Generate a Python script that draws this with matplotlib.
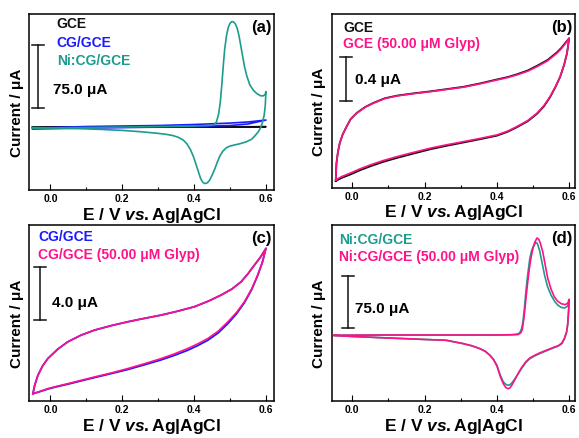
import numpy as np
import matplotlib
matplotlib.use("Agg")
import matplotlib.pyplot as plt
from matplotlib.ticker import MultipleLocator

plt.rcParams['font.family'] = ['Liberation Sans', 'DejaVu Sans']
plt.rcParams['font.weight'] = 'bold'
plt.rcParams['axes.labelweight'] = 'bold'
plt.rcParams['mathtext.fontset'] = 'custom'
plt.rcParams['mathtext.it'] = 'Liberation Sans:italic:bold'
plt.rcParams['mathtext.rm'] = 'Liberation Sans:bold'

BLACK = '#111111'
BLUE = '#1a1aff'
TEAL = '#1b9c8d'
PINK = '#ff1189'

# ---- panel (a): current in uA ----
a_gce_E = [-0.05, 0.1, 0.3, 0.5, 0.6, 0.5, 0.3, 0.1, -0.05]
a_gce_I = [0.0, 0.1, 0.2, 0.3, 0.4, 0.0, -0.2, -0.3, 0.0]

a_cg_E = [-0.05, 0.1, 0.2, 0.3, 0.4, 0.5, 0.55, 0.6, 0.55, 0.5, 0.4, 0.3, 0.2, 0.1, -0.05]
a_cg_I = [-1.2, 0.6, 1.2, 1.8, 3.0, 4.7, 6.0, 8.3, 3.6, 1.8, 0.6, 0.0, -0.6, -1.2, -2.4]

a_ni_E = [-0.05, 0.1, 0.2, 0.3, 0.4, 0.44, 0.455, 0.462, 0.468, 0.473, 0.477, 0.481, 0.485,
          0.49, 0.495, 0.5, 0.505, 0.51, 0.515, 0.52, 0.525, 0.53, 0.535, 0.54, 0.547, 0.555,
          0.565, 0.575, 0.585, 0.593, 0.598, 0.6,
          0.598, 0.595, 0.59, 0.585, 0.578, 0.57, 0.56, 0.545, 0.53, 0.515, 0.5, 0.49, 0.48,
          0.472, 0.465, 0.458, 0.45, 0.443, 0.437, 0.43, 0.424, 0.418, 0.412, 0.405, 0.398,
          0.39, 0.38, 0.37, 0.355, 0.34, 0.32, 0.3, 0.25, 0.2, 0.15, 0.1, 0.05, 0.0, -0.05]
a_ni_I = [-1.2, -0.6, 0.0, 0.6, 1.2, 1.8, 2.6, 6.0, 15.0, 30.0, 50.0, 72.0, 92.0,
          108.0, 118.0, 123.0, 125.0, 124.5, 122.0, 117.0, 108.0, 96.0, 84.0, 72.0, 60.0, 50.0,
          43.5, 39.5, 37.0, 37.0, 39.0, 42.0,
          25.0, 14.0, 5.0, -1.0, -6.0, -10.0, -14.5, -17.5, -19.5, -21.0, -22.5, -24.5, -28.5,
          -34.0, -41.0, -49.0, -57.0, -63.0, -66.0, -67.0, -65.5, -61.0, -53.0, -44.0, -35.0,
          -27.0, -20.0, -15.5, -12.0, -10.0, -8.5, -7.5, -5.5, -4.0, -3.0, -2.2, -1.5, -1.0, -0.5]

# ---- panel (b) ----
b_E = [-0.046, -0.03, -0.006, 0.02, 0.05, 0.085, 0.124, 0.17, 0.216, 0.26, 0.308, 0.355, 0.40,
       0.43, 0.455, 0.485, 0.511, 0.53, 0.547, 0.562, 0.575, 0.586, 0.594, 0.60,
       0.59, 0.578, 0.566, 0.54, 0.511, 0.485, 0.455, 0.43, 0.40, 0.355, 0.308, 0.26, 0.216,
       0.17, 0.124, 0.09, 0.058, 0.035, 0.012, -0.005, -0.016, -0.027, -0.035, -0.04, -0.044, -0.046]
b_gly_I = [-0.275, -0.245, -0.213, -0.175, -0.137, -0.098, -0.061, -0.022, 0.016, 0.046, 0.076, 0.106, 0.137,
           0.172, 0.213, 0.268, 0.336, 0.405, 0.488, 0.58, 0.671, 0.78, 0.885, 1.022,
           0.975, 0.925, 0.885, 0.815, 0.762, 0.72, 0.686, 0.662, 0.640, 0.606, 0.574, 0.553, 0.533,
           0.515, 0.494, 0.47, 0.427, 0.39, 0.336, 0.28, 0.213, 0.14, 0.061, -0.02, -0.122, -0.275]
b_gce_I = [-0.285, -0.257, -0.226, -0.188, -0.150, -0.110, -0.073, -0.033, 0.006, 0.037, 0.068, 0.099, 0.130,
           0.166, 0.207, 0.262, 0.330, 0.398, 0.482, 0.575, 0.668, 0.778, 0.885, 1.022,
           0.982, 0.933, 0.893, 0.823, 0.770, 0.727, 0.692, 0.667, 0.645, 0.610, 0.578, 0.556, 0.536,
           0.518, 0.497, 0.473, 0.430, 0.392, 0.338, 0.281, 0.213, 0.14, 0.061, -0.02, -0.122, -0.285]

# ---- panel (c) ----
c_E = [-0.049, -0.03, -0.0075, 0.02, 0.048, 0.085, 0.123, 0.17, 0.215, 0.26, 0.308, 0.345, 0.382,
       0.41, 0.438, 0.467, 0.494, 0.518, 0.540, 0.56, 0.577, 0.59, 0.60,
       0.585, 0.568, 0.55, 0.531, 0.505, 0.475, 0.44, 0.401, 0.355, 0.308, 0.26, 0.215, 0.17,
       0.123, 0.085, 0.048, 0.02, -0.0075, -0.022, -0.035, -0.044, -0.049]
c_gly_I = [-1.03, -0.86, -0.65, -0.46, -0.28, -0.03, 0.225, 0.53, 0.85, 1.2, 1.6, 1.95, 2.35,
           2.7, 3.1, 3.65, 4.35, 5.05, 5.85, 6.8, 7.85, 8.8, 9.85,
           9.2, 8.6, 7.95, 7.35, 6.8, 6.35, 5.9, 5.48, 5.15, 4.85, 4.6, 4.35, 4.07,
           3.73, 3.35, 2.85, 2.3, 1.6, 1.05, 0.35, -0.4, -1.03]
c_cg_I = [-1.03, -0.88, -0.68, -0.49, -0.32, -0.07, 0.18, 0.48, 0.78, 1.12, 1.50, 1.84, 2.22,
          2.57, 2.97, 3.52, 4.22, 4.95, 5.78, 6.75, 7.82, 8.8, 9.85,
          9.2, 8.6, 7.95, 7.35, 6.8, 6.35, 5.9, 5.48, 5.15, 4.85, 4.6, 4.35, 4.07,
          3.73, 3.35, 2.85, 2.3, 1.6, 1.05, 0.35, -0.4, -1.03]

# ---- panel (d) ----
d_ni_E = [-0.05, 0.1, 0.2, 0.3, 0.4, 0.44, 0.455, 0.463, 0.468, 0.472, 0.476, 0.481, 0.486,
          0.491, 0.496, 0.5, 0.505, 0.508, 0.512, 0.518, 0.525, 0.532, 0.54, 0.55, 0.56,
          0.569, 0.578, 0.587, 0.595, 0.6,
          0.598, 0.596, 0.593, 0.587, 0.58, 0.57, 0.556, 0.538, 0.518, 0.505, 0.491, 0.48,
          0.468, 0.458, 0.45, 0.442, 0.436, 0.431, 0.425, 0.418, 0.41, 0.4, 0.39, 0.381,
          0.368, 0.353, 0.33, 0.307, 0.26, 0.2, 0.1, 0.0, -0.05]
d_ni_I = [0.0, 0.4, 0.4, 0.4, 0.4, 0.8, 1.5, 3.3, 9.0, 19.0, 38.0, 66.8, 90.0,
          109.8, 121.0, 126.6, 131.0, 132.8, 131.5, 121.9, 104.0, 86.0, 70.0, 57.4, 48.5,
          43.0, 40.0, 39.1, 41.5, 47.8,
          30.0, 15.0, 4.7, -5.0, -12.0, -15.5, -18.2, -22.0, -26.4, -29.5, -33.6, -39.0,
          -47.9, -56.0, -62.2, -68.0, -71.0, -71.7, -70.5, -67.0, -58.0, -43.0, -34.0, -28.7,
          -23.0, -19.2, -15.0, -12.0, -7.2, -6.0, -3.9, -1.7, -0.3]

d_gly_E = [-0.05, 0.1, 0.2, 0.3, 0.4, 0.44, 0.458, 0.465, 0.47, 0.475, 0.48, 0.485, 0.49,
           0.495, 0.5, 0.505, 0.511, 0.516, 0.52, 0.527, 0.534, 0.541, 0.55, 0.559, 0.568,
           0.578, 0.589, 0.596, 0.6,
           0.598, 0.596, 0.593, 0.587, 0.58, 0.57, 0.556, 0.538, 0.518, 0.505, 0.491, 0.48,
           0.468, 0.458, 0.45, 0.442, 0.436, 0.431, 0.425, 0.418, 0.41, 0.4, 0.39, 0.381,
           0.368, 0.353, 0.33, 0.307, 0.26, 0.2, 0.1, 0.0, -0.05]
d_gly_I = [0.0, 0.4, 0.4, 0.4, 0.4, 0.7, 1.0, 3.0, 7.6, 25.0, 50.6, 75.0, 96.5,
           113.0, 125.0, 133.5, 139.5, 137.5, 132.4, 119.5, 100.0, 81.2, 66.0, 55.0, 49.0,
           45.3, 43.9, 46.0, 51.6,
           32.0, 17.0, 5.0, -4.0, -11.0, -14.8, -17.5, -21.2, -25.4, -28.6, -32.6, -38.0,
           -46.5, -55.5, -63.4, -71.0, -75.5, -76.6, -75.0, -69.8, -60.0, -44.0, -34.5, -29.0,
           -23.0, -19.2, -15.0, -12.0, -7.2, -6.0, -3.9, -1.7, -0.3]

xlabel = r'E / V $\mathit{vs.}$Ag|AgCl'
ylabel = 'Current / \u03bcA'


def style_axes(ax, xlim, ylim, tag):
    ax.set_xlim(*xlim)
    ax.set_ylim(*ylim)
    ax.set_yticks([])
    ax.xaxis.set_major_locator(MultipleLocator(0.2))
    ax.xaxis.set_minor_locator(MultipleLocator(0.1))
    ax.xaxis.set_major_formatter(plt.FuncFormatter(lambda v, p: '%.1f' % v))
    ax.tick_params(axis='x', which='both', direction='in', labelsize=7.5, pad=3)
    ax.tick_params(axis='x', which='major', length=4, width=0.8)
    ax.tick_params(axis='x', which='minor', length=2.5, width=0.8)
    for lab in ax.get_xticklabels():
        lab.set_fontweight('bold')
    for s in ax.spines.values():
        s.set_linewidth(1.1)
    ax.set_xlabel(xlabel, fontsize=12.5, labelpad=1)
    ax.set_ylabel(ylabel, fontsize=11)
    ax.yaxis.set_label_coords(-0.022, 0.44)
    ax.text(0.99, 0.925, tag, transform=ax.transAxes, ha='right', va='center', fontsize=12)


def scale_bar(ax, x, y0, y1, label, tx, ty):
    ax.plot([x, x], [y0, y1], color=BLACK, lw=1.1, transform=ax.transAxes)
    for y in (y0, y1):
        ax.plot([x - 0.024, x + 0.024], [y, y], color=BLACK, lw=1.1, transform=ax.transAxes)
    ax.text(tx, ty, label, transform=ax.transAxes, ha='left', va='center', fontsize=11)


def legend_text(ax, x, ys, labels, colors):
    for y, lab, c in zip(ys, labels, colors):
        ax.text(x, y, lab, transform=ax.transAxes, ha='left', va='center', fontsize=10, color=c)


fig = plt.figure(figsize=(5.79, 4.38), dpi=100)
axa = fig.add_axes([0.050, 0.566, 0.423, 0.402])
axb = fig.add_axes([0.573, 0.571, 0.420, 0.397])
axc = fig.add_axes([0.050, 0.0845, 0.423, 0.402])
axd = fig.add_axes([0.573, 0.0845, 0.420, 0.402])

# (a)
axa.plot(a_gce_E, a_gce_I, color=BLACK, lw=1.2)
axa.plot(a_cg_E, a_cg_I, color=BLUE, lw=1.2)
axa.plot(a_ni_E, a_ni_I, color=TEAL, lw=1.2)
style_axes(axa, (-0.06, 0.622), (-74.7, 133.9), '(a)')
legend_text(axa, 0.114, [0.943, 0.838, 0.733], ['GCE', 'CG/GCE', 'Ni:CG/GCE'], [BLACK, BLUE, TEAL])
scale_bar(axa, 0.038, 0.464, 0.824, '75.0 \u03bcA', 0.098, 0.568)

# (b)
axb.plot(b_E, b_gce_I, color=BLACK, lw=1.3)
axb.plot(b_E, b_gly_I, color=PINK, lw=1.2)
style_axes(axb, (-0.057, 0.616), (-0.348, 1.244), '(b)')
legend_text(axb, 0.047, [0.922, 0.826], ['GCE', 'GCE (50.00 \u03bcM Glyp)'], [BLACK, PINK])
scale_bar(axb, 0.058, 0.50, 0.751, '0.4 \u03bcA', 0.095, 0.621)

# (c)
axc.plot(c_E, c_cg_I, color=BLUE, lw=1.3)
axc.plot(c_E, c_gly_I, color=PINK, lw=1.2)
style_axes(axc, (-0.06, 0.622), (-1.575, 11.6), '(c)')
legend_text(axc, 0.038, [0.930, 0.828], ['CG/GCE', 'CG/GCE (50.00 \u03bcM Glyp)'], [BLUE, PINK])
scale_bar(axc, 0.045, 0.460, 0.763, '4.0 \u03bcA', 0.093, 0.557)

# (d)
axd.plot(d_ni_E, d_ni_I, color=TEAL, lw=1.2)
axd.plot(d_gly_E, d_gly_I, color=PINK, lw=1.2)
style_axes(axd, (-0.057, 0.616), (-94.2, 158.2), '(d)')
legend_text(axd, 0.030, [0.916, 0.816], ['Ni:CG/GCE', 'Ni:CG/GCE (50.00 \u03bcM Glyp)'], [TEAL, PINK])
scale_bar(axd, 0.067, 0.415, 0.712, '75.0 \u03bcA', 0.095, 0.525)

fig.savefig('out.png', dpi=100)
